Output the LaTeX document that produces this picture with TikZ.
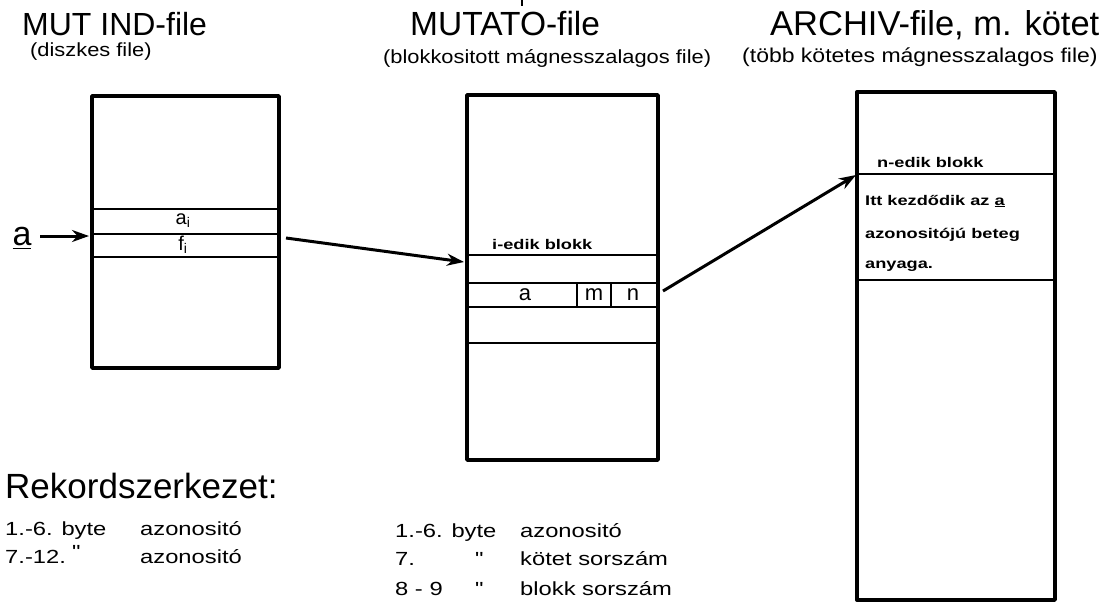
\documentclass[tikz,border=0pt]{standalone}
\usepackage{fontspec}
\setmainfont{Liberation Sans}
\newfontfamily\widefont[FakeStretch=1.15]{Liberation Sans}
\newfontfamily\widerfont[FakeStretch=1.25]{Liberation Sans}
\newfontfamily\boxfont[FakeStretch=1.3]{Liberation Sans}
\usetikzlibrary{arrows.meta}
\tikzset{
  box/.style={line width=3.4pt, line join=round},
  sep/.style={line width=2.4pt},
  arr/.style={line width=3pt, -{Stealth[length=17pt,width=12pt]}},
  title/.style={anchor=base west, inner sep=0pt, text depth=0pt},
  sub/.style={anchor=base west, inner sep=0pt},
  small/.style={anchor=base west, inner sep=0pt, font=\boxfont\bfseries\fontsize{14}{14}\selectfont},
  cell/.style={inner sep=0pt, font=\fontsize{22}{22}\selectfont},
  rec/.style={anchor=base west, inner sep=0pt, font=\widerfont\fontsize{19}{19}\selectfont},
}
\begin{document}
\begin{tikzpicture}[x=1pt,y=-1pt]
\useasboundingbox (0,0) rectangle (1103,614);
% titles
\node[title, font=\fontsize{32}{32}\selectfont] (t1) at (22,35) {MUT IND-file};
\node[sub, font=\widefont\fontsize{19}{19}\selectfont] (s1) at (30,56) {(diszkes file)};
\node[title, font=\fontsize{33.5}{33.5}\selectfont] (t2) at (410,35) {MUTATO-file};
\node[sub, font=\widefont\fontsize{19}{19}\selectfont] (s2) at (383,63) {(blokkositott mágnesszalagos file)};
\node[title, font=\fontsize{34.5}{34.5}\selectfont] (t3) at (770,35) {ARCHIV-file, m. kötet};
\node[sub, font=\widefont\fontsize{20}{20}\selectfont] (s3) at (742,62) {(több kötetes mágnesszalagos file)};
\draw[line width=1.5pt] (522,0) -- (522,6);
% box 1
\draw[box] (92,96) rectangle (279,368);
\draw[sep] (92,209) -- (279,209);
\draw[sep] (92,234) -- (279,234);
\draw[sep] (92,257) -- (279,257);
\node[cell, font=\fontsize{20}{20}\selectfont] (ai) at (183,221) {a\textsubscript{i}};
\node[cell, font=\fontsize{20}{20}\selectfont] (fi) at (183,245) {f\textsubscript{i}};
% box 2
\draw[box] (467,95) rectangle (658,460);
\draw[sep] (467,255) -- (658,255);
\draw[sep] (467,283) -- (658,283);
\draw[sep] (467,307) -- (658,307);
\draw[sep] (467,343) -- (658,343);
\draw[sep] (577,283) -- (577,307);
\draw[sep] (611,283) -- (611,307);
\node[small] (iblk) at (492,249) {i-edik blokk};
\node[cell] (ca) at (525,295) {a};
\node[cell] (cm) at (594,295) {m};
\node[cell] (cn) at (633,295) {n};
% box 3
\draw[box] (857,92) rectangle (1055,600);
\draw[sep] (857,174) -- (1055,174);
\draw[sep] (857,280) -- (1055,280);
\node[small] (nblk) at (877,167) {n-edik blokk};
\node[small] (l1) at (865,205) {Itt kezdődik az \underline{a}};
\node[small] (l2) at (865,238) {azonositójú beteg};
\node[small] (l3) at (865,268) {anyaga.};
% arrows
\node[inner sep=0pt, font=\fontsize{34}{34}\selectfont] (alab) at (22,238) {\underline{a}};
\coordinate (aout) at (40,236);
\coordinate (b1w) at (89,236);
\coordinate (b1e) at (286,238);
\coordinate (b2w) at (464,262);
\coordinate (b2e) at (663,291);
\coordinate (b3w) at (856,175);
\draw[arr] (aout) -- (b1w);
\draw[arr] (b1e) -- (b2w);
\draw[arr] (b2e) -- (b3w);
% record structure
\node[title, font=\fontsize{35}{35}\selectfont] (rk) at (5,498) {Rekordszerkezet:};
\node[rec] (r1a) at (5,535) {1.-6. byte};
\node[rec] (r1b) at (140,535) {azonositó};
\node[rec] (r2a) at (5,563) {7.-12.};
\node[rec] (r2m) at (72,558) {"};
\node[rec] (r2b) at (140,563) {azonositó};
\node[rec] (q1a) at (395,537) {1.-6. byte};
\node[rec] (q1b) at (520,537) {azonositó};
\node[rec] (q2a) at (395,565) {7.};
\node[rec] (q2m) at (475,565) {"};
\node[rec] (q2b) at (520,565) {kötet sorszám};
\node[rec] (q3a) at (395,595) {8 - 9};
\node[rec] (q3m) at (475,595) {"};
\node[rec] (q3b) at (520,595) {blokk sorszám};
\end{tikzpicture}
\end{document}
